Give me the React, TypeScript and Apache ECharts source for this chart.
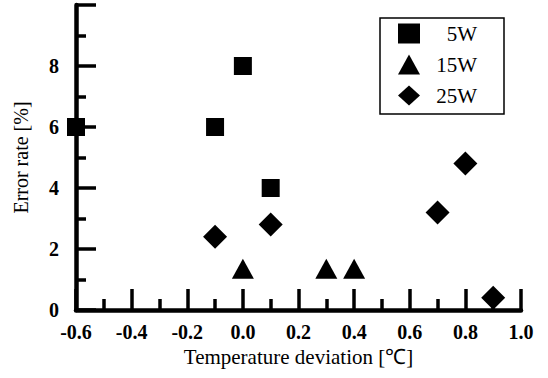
import React, { useEffect, useRef } from "react";
import * as echarts from "echarts";

const seriesNames = ["5W", "15W", "25W"];
const x5W = [-0.6, -0.1, 0.0, 0.1];
const y5W = [6, 6, 8, 4];
const x15W = [0.0, 0.3, 0.4];
const y15W = [1.35, 1.35, 1.35];
const x25W = [-0.1, 0.1, 0.7, 0.8, 0.9];
const y25W = [2.4, 2.8, 3.2, 4.8, 0.4];

const xMin = -0.6;
const xMax = 1.0;
const xStep = 0.2;
const yMin = 0;
const yMax = 10;
const yStep = 2;

const xTitle = "Temperature deviation [℃]";
const yTitle = "Error rate [%]";

const FONT = "Liberation Serif";

const pair = (xs: number[], ys: number[]) => xs.map((x, i) => [x, ys[i]]);

export default function App() {
  const ref = useRef<HTMLDivElement>(null);
  useEffect(() => {
    if (!ref.current) return;
    const chart = echarts.init(ref.current, null, { renderer: "svg" });
    const axisLine = { show: true, onZero: false, lineStyle: { color: "#000", width: 4.5 } };
    const mark = { color: "#000", opacity: 1 };
    chart.setOption({
      animation: false,
      backgroundColor: "#fff",
      textStyle: { fontFamily: FONT },
      grid: { left: 76, right: 27, top: 5, bottom: 68, containLabel: false },
      legend: {
        orient: "vertical",
        left: 380,
        top: 18,
        data: seriesNames,
        itemWidth: 22,
        itemHeight: 20,
        itemGap: 10,
        padding: [5, 27, 8, 18],
        borderColor: "#000",
        borderWidth: 1.5,
        borderRadius: 0,
        itemStyle: { opacity: 1 },
        formatter: (name: string) => `{a|${name}}`,
        textStyle: {
          color: "#000",
          fontFamily: FONT,
          fontSize: 21,
          rich: { a: { width: 52, align: "right", fontFamily: FONT, fontSize: 21, color: "#000" } },
        },
      },
      xAxis: {
        type: "value",
        min: xMin,
        max: xMax,
        interval: xStep,
        name: xTitle,
        nameLocation: "middle",
        nameGap: 35,
        nameTextStyle: { color: "#000", fontFamily: FONT, fontSize: 21 },
        axisLine,
        axisTick: { show: true, inside: true, length: 21, lineStyle: { color: "#000", width: 3.5 } },
        minorTick: { show: true, splitNumber: 2, length: 11, lineStyle: { color: "#000", width: 3.5 } },
        splitLine: { show: false },
        minorSplitLine: { show: false },
        axisLabel: {
          color: "#000",
          fontFamily: FONT,
          fontSize: 20,
          fontWeight: "bold",
          margin: 12,
          formatter: (v: number) => (Math.abs(v) < 1e-9 ? 0 : v).toFixed(1),
        },
      },
      yAxis: {
        type: "value",
        min: yMin,
        max: yMax,
        interval: yStep,
        name: yTitle,
        nameLocation: "middle",
        nameRotate: 90,
        nameGap: 45,
        nameTextStyle: { color: "#000", fontFamily: FONT, fontSize: 20 },
        axisLine,
        axisTick: { show: true, inside: true, length: 20, lineStyle: { color: "#000", width: 3.5 } },
        minorTick: { show: true, splitNumber: 2, length: 10, lineStyle: { color: "#000", width: 3.5 } },
        splitLine: { show: false },
        minorSplitLine: { show: false },
        axisLabel: {
          color: "#000",
          fontFamily: FONT,
          fontSize: 20,
          fontWeight: "bold",
          margin: 17,
          showMaxLabel: false,
        },
      },
      series: [
        {
          name: seriesNames[0],
          type: "scatter",
          symbol: "rect",
          symbolSize: 18,
          clip: false,
          itemStyle: mark,
          data: pair(x5W, y5W),
          z: 5,
        },
        {
          name: seriesNames[1],
          type: "scatter",
          symbol: "triangle",
          symbolSize: [22, 20],
          clip: false,
          itemStyle: mark,
          data: pair(x15W, y15W),
          z: 5,
        },
        {
          name: seriesNames[2],
          type: "scatter",
          symbol: "diamond",
          symbolSize: 24,
          clip: false,
          itemStyle: mark,
          data: pair(x25W, y25W),
          z: 5,
        },
      ],
    });
    return () => chart.dispose();
  }, []);
  return <div ref={ref} style={{ width: 548, height: 378, position: "absolute", left: 0, top: 0 }} />;
}
